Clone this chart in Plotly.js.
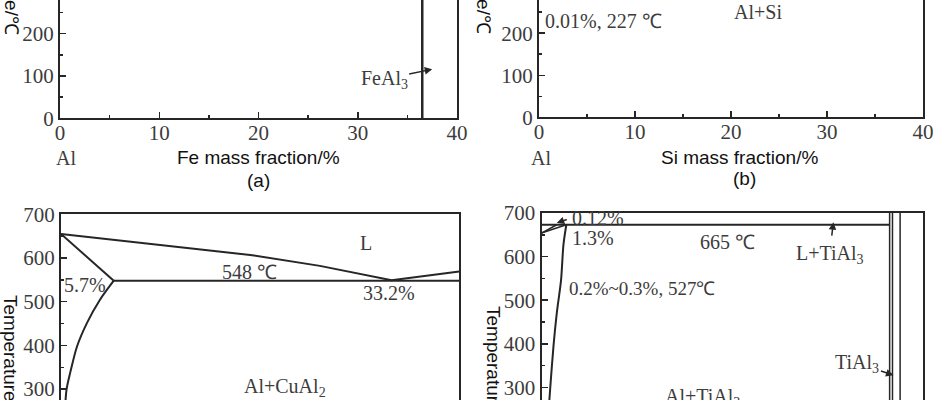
<!DOCTYPE html>
<html>
<head>
<meta charset="utf-8">
<script src="https://cdn.plot.ly/plotly-3.0.1.min.js"></script>
<style>html,body{margin:0;padding:0;background:#fff;overflow:hidden;height:400px}</style>
</head>
<body>
<div id="chart" style="width:940px;height:430px"></div>
<script>
// ---- data ----
// (a) Al–Fe
const feAl3X = [36.5, 36.5];
const feAl3T = [0, 300];
// (c) Al–Cu
const cuLiquidusX = [0, 9, 19, 26, 33.2, 40];
const cuLiquidusT = [655, 632, 607, 582, 549, 569];
const cuSolidusX = [0, 5.3];
const cuSolidusT = [655, 548];
const cuEutecticX = [5.3, 40];
const cuEutecticT = [548, 548];
const cuSolvusX = [5.3, 3.9, 2.6, 1.6, 0.95, 0.55, 0.3];
const cuSolvusT = [548, 504, 451, 397, 340, 298, 200];
// (d) Al–Ti
const tiLiquidusX = [0, 1.6];
const tiLiquidusT = [654, 673];
const tiSolidusX = [0, 2.6];
const tiSolidusT = [654, 673];
const tiPeritecticX = [0, 36.5];
const tiPeritecticT = [673, 673];
const tiSolvusX = [2.6, 2.3, 2.05, 1.6, 1.25, 0.9, 0.6];
const tiSolvusT = [673, 627, 546, 470, 393, 294, 200];
const tiAl3LinesX = [36.5, 36.8, 37.6];
const tiAl3LinesT = [200, 700];
// tick labels
const compTicks = [0, 10, 20, 30, 40];
const tempTicks = [0, 100, 200, 300, 400, 500, 600, 700];

// ---- styling ----
const LINE = '#262626';
const TXT = '#3c3c3c';
const serif = 'Liberation Serif, Times New Roman, serif';
const sans = 'Liberation Sans, Arial, sans-serif';

function line(x, y, xa, ya, w, shape) {
  return {x: x, y: y, xaxis: xa, yaxis: ya, type: 'scatter', mode: 'lines',
          line: {color: LINE, width: w || 2, shape: shape || 'linear', smoothing: 0.8},
          hoverinfo: 'skip', showlegend: false};
}
const traces = [
  line(feAl3X, feAl3T, 'x', 'y', 2.5),
  line(cuLiquidusX, cuLiquidusT, 'x3', 'y3'),
  line(cuSolidusX, cuSolidusT, 'x3', 'y3'),
  line(cuEutecticX, cuEutecticT, 'x3', 'y3'),
  line(cuSolvusX, cuSolvusT, 'x3', 'y3', 2, 'spline'),
  line(tiLiquidusX, tiLiquidusT, 'x4', 'y4', 1.5),
  line(tiSolidusX, tiSolidusT, 'x4', 'y4', 1.5),
  line(tiPeritecticX, tiPeritecticT, 'x4', 'y4'),
  line(tiSolvusX, tiSolvusT, 'x4', 'y4', 2, 'spline'),
];
tiAl3LinesX.forEach(v => traces.push(line([v, v], tiAl3LinesT, 'x4', 'y4', 1.5)));
// invisible trace so panel (b) axes exist
traces.push({x: [0], y: [0], xaxis: 'x2', yaxis: 'y2', type: 'scatter', mode: 'markers',
             marker: {opacity: 0}, hoverinfo: 'skip', showlegend: false});

function xBottom(dom, anchor) {
  return {domain: dom, anchor: anchor, range: [0, 40], tickvals: compTicks, ticks: 'inside',
          ticklen: 6, tickwidth: 1.5, tickcolor: LINE, showline: true, linecolor: LINE, linewidth: 2,
          showgrid: false, zeroline: false, ticklabelstandoff: -6,
          minor: {dtick: 5, ticks: 'inside', ticklen: 3, tickcolor: LINE, showgrid: false},
          tickfont: {family: serif, size: 21, color: TXT}};
}
function xTop(dom, anchor) {
  return {domain: dom, anchor: anchor, side: 'top', range: [0, 40], showticklabels: false, ticks: '',
          showline: true, linecolor: LINE, linewidth: 2, showgrid: false, zeroline: false};
}
function yAx(dom, anchor, rng) {
  return {domain: dom, anchor: anchor, range: rng, tickvals: tempTicks, ticks: 'inside',
          ticklen: 6, tickwidth: 1.5, tickcolor: LINE, showline: true, mirror: true,
          linecolor: LINE, linewidth: 2, showgrid: false, zeroline: false,
          minor: {dtick: 50, ticks: 'inside', ticklen: 3, tickcolor: LINE, showgrid: false},
          tickfont: {family: serif, size: 21, color: TXT}};
}
const W = 940, H = 430;
const px = v => v / W, py = v => 1 - v / H;

function note(text, x, y, xref, yref, opts) {
  return Object.assign({text: text, x: x, y: y, xref: xref, yref: yref, showarrow: false,
          xanchor: 'center', yanchor: 'middle',
          font: {family: serif, size: 20, color: TXT}}, opts || {});
}
const titleFont = {family: sans, size: 19, color: '#111'};
const annotations = [
  // rotated y titles
  note('Temperature/℃', px(12), py(-31), 'paper', 'paper', {textangle: 90, font: titleFont}),
  note('Temperature/℃', px(484), py(-31), 'paper', 'paper', {textangle: 90, font: titleFont}),
  note('Temperature/℃', px(11), py(360), 'paper', 'paper', {textangle: 90, font: titleFont}),
  note('Temperature/℃', px(494), py(371), 'paper', 'paper', {textangle: 90, font: titleFont}),
  // (a)
  note('Al', px(66), py(158), 'paper', 'paper'),
  note('Fe mass fraction/%', px(258), py(157), 'paper', 'paper', {font: titleFont}),
  note('(a)', px(258), py(180), 'paper', 'paper', {font: titleFont}),
  note('FeAl<sub>3</sub>', 37.5, 116, 'x', 'y', {showarrow: true, ax: -48, ay: 10, arrowhead: 2,
        arrowsize: 1, arrowwidth: 1.5, arrowcolor: LINE}),
  // (b)
  note('Al', px(541), py(158), 'paper', 'paper'),
  note('Si mass fraction/%', px(739), py(157), 'paper', 'paper', {font: titleFont}),
  note('(b)', px(744), py(178), 'paper', 'paper', {font: titleFont}),
  note('0.01%, 227 ℃', 6.7, 229, 'x2', 'y2'),
  note('Al+Si', 22.8, 250, 'x2', 'y2'),
  // (c)
  note('L', 30.6, 635, 'x3', 'y3'),
  note('548 ℃', 18.9, 567, 'x3', 'y3'),
  note('5.7%', 2.4, 538, 'x3', 'y3'),
  note('33.2%', 32.9, 519, 'x3', 'y3'),
  note('Al+CuAl<sub>2</sub>', 22.5, 303, 'x3', 'y3'),
  // (d)
  note('0.12%', 5.9, 689, 'x4', 'y4'),
  note(' ', 1.6, 677, 'x4', 'y4', {showarrow: true, ax: 14, ay: -5, arrowhead: 2, arrowsize: 1,
        arrowwidth: 1.5, arrowcolor: LINE}),
  note('1.3%', 5.4, 642, 'x4', 'y4'),
  note('665 ℃', 19.5, 634, 'x4', 'y4'),
  note('L+TiAl<sub>3</sub>', 30.3, 604, 'x4', 'y4'),
  note(' ', 30.6, 679, 'x4', 'y4', {showarrow: true, ax: -3, ay: 26, arrowhead: 2, arrowsize: 1,
        arrowwidth: 1.5, arrowcolor: LINE}),
  note('0.2%~0.3%, 527℃', 10.5, 527, 'x4', 'y4', {font: {family: serif, size: 19, color: TXT}}),
  note('TiAl<sub>3</sub>', 36.9, 328, 'x4', 'y4', {showarrow: true, ax: -36, ay: -12, arrowhead: 2,
        arrowsize: 1, arrowwidth: 1.5, arrowcolor: LINE}),
  note('Al+TiAl<sub>3</sub>', 16.9, 277, 'x4', 'y4'),
];

const layout = {
  width: W, height: H, margin: {l: 0, r: 0, t: 0, b: 0}, paper_bgcolor: '#fff', plot_bgcolor: '#fff',
  showlegend: false,
  xaxis: xBottom([px(60), px(457)], 'y'),
  yaxis: yAx([py(118.3), 1], 'x', [0, 279.7]),
  xaxis2: xBottom([px(539), px(923)], 'y2'),
  yaxis2: yAx([py(117.3), 1], 'x2', [0, 279]),
  xaxis3: xTop([px(61), px(459.3)], 'y3'),
  yaxis3: yAx([0, py(214.3)], 'x3', [700 - (H - 214.3) / 0.437, 700]),
  xaxis4: xTop([px(541.5), px(923)], 'y4'),
  yaxis4: yAx([0, py(213)], 'x4', [700 - (H - 213) / 0.436, 700]),
  annotations: annotations
};
Plotly.newPlot('chart', traces, layout, {displayModeBar: false, staticPlot: true});
</script>
</body>
</html>
